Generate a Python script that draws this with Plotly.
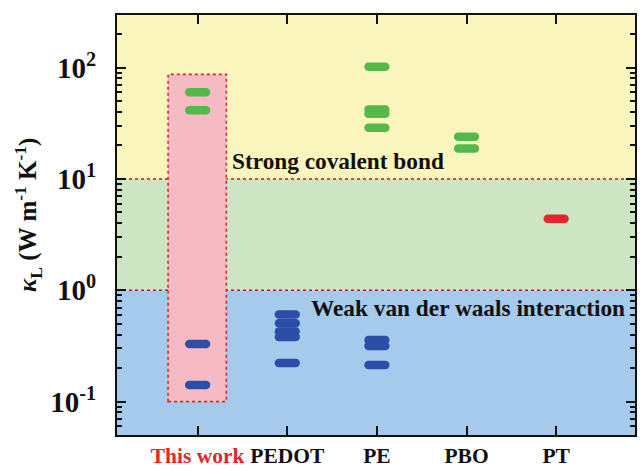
import numpy as np
import plotly.graph_objects as go

# Categories (x positions 0..4)
categories = ["This work", "PEDOT", "PE", "PBO", "PT"]

# Thermal conductivity values, W m^-1 K^-1
this_work_high = [60.0, 41.5]
this_work_low = [0.33, 0.141]
pedot_low = [0.607, 0.507, 0.427, 0.38, 0.222]
pe_high = [102.0, 42.0, 38.5, 28.8]
pe_low = [0.358, 0.316, 0.213]
pbo_high = [23.9, 18.8]
pt_mid = [4.39]

GREEN = "#55b947"
BLUE = "#2d4ea8"
RED = "#e3262b"
FONT = "Times New Roman, Liberation Serif, serif"

fig = go.Figure()


def add_pills(xi, values, color):
    fig.add_trace(go.Scatter(
        x=[xi] * len(values), y=values, mode="markers",
        marker=dict(symbol="line-ew", size=12,
                    line=dict(width=8.5, color=color)),
        showlegend=False, hoverinfo="y",
    ))


add_pills(0, this_work_high, GREEN)
add_pills(0, this_work_low, BLUE)
add_pills(1, pedot_low, BLUE)
add_pills(2, pe_high, GREEN)
add_pills(2, pe_low, BLUE)
add_pills(3, pbo_high, GREEN)
add_pills(4, pt_mid, RED)

# Background regions
fig.add_shape(type="rect", xref="paper", yref="y", x0=0, x1=1, y0=10, y1=1000,
              fillcolor="#f9f5bd", line_width=0, layer="below")
fig.add_shape(type="rect", xref="paper", yref="y", x0=0, x1=1, y0=1, y1=10,
              fillcolor="#cde5c3", line_width=0, layer="below")
fig.add_shape(type="rect", xref="paper", yref="y", x0=0, x1=1, y0=0.01, y1=1,
              fillcolor="#a5caeb", line_width=0, layer="below")
# Highlight of this work
fig.add_shape(type="rect", xref="x", yref="y", x0=-0.33, x1=0.32, y0=0.1, y1=87,
              fillcolor="#f6bac4", line=dict(color="#d42a2a", width=1.6, dash="dot"),
              layer="below")
# Dotted boundaries
for yb in (10, 1):
    fig.add_shape(type="line", xref="paper", yref="y", x0=0, x1=1, y0=yb, y1=yb,
                  line=dict(color="#a8202a", width=1.6, dash="dot"), layer="below")

fig.add_annotation(x=1.567, y=np.log10(14.5), xref="x", yref="y",
                   text="<b>Strong covalent bond</b>", showarrow=False,
                   font=dict(family=FONT, size=23.3, color="#111"))
fig.add_annotation(x=3.02, y=np.log10(0.69), xref="x", yref="y",
                   text="<b>Weak van der waals interaction</b>", showarrow=False,
                   font=dict(family=FONT, size=23.3, color="#111"))
fig.add_annotation(x=-0.173, y=0.525, xref="paper", yref="paper", textangle=-90,
                   xanchor="center", yanchor="middle",
                   text="<b><i>κ</i><sub>L</sub> (W m<sup>-1</sup> K<sup>-1</sup>)</b>",
                   showarrow=False, font=dict(family=FONT, size=25, color="#111"))

ticktext = ['<span style="color:#e3262b">This work</span>'] + categories[1:]
ticktext = [f"<b>{t}</b>" for t in ticktext]

minor_vals = [m * 10.0 ** d for d in range(-2, 3) for m in range(2, 10)]

fig.update_layout(
    width=640, height=471,
    margin=dict(l=117, r=3, t=15, b=34),
    paper_bgcolor="white", plot_bgcolor="white",
    font=dict(family=FONT, color="#111"),
    xaxis=dict(
        range=[-0.9, 4.88], tickvals=list(range(len(categories))), ticktext=ticktext,
        ticks="inside", ticklen=9, tickwidth=2, tickcolor="#111",
        showline=True, linecolor="#111", linewidth=2, mirror="ticks",
        showgrid=False, zeroline=False,
        tickfont=dict(family=FONT, size=21.5, color="#111"),
    ),
    yaxis=dict(
        type="log", range=[-1.3, 2.473],
        tickvals=[0.1, 1, 10, 100],
        ticktext=["<b>10<sup>-1</sup></b>", "<b>10<sup>0</sup></b>",
                  "<b>10<sup>1</sup></b>", "<b>10<sup>2</sup></b>"],
        ticks="inside", ticklen=9, tickwidth=2, tickcolor="#111",
        showline=True, linecolor="#111", linewidth=2, mirror="ticks",
        showgrid=False, zeroline=False, ticklabelstandoff=13,
        tickfont=dict(family=FONT, size=29, color="#111"),
        minor=dict(tickvals=minor_vals, ticks="inside", ticklen=5, tickwidth=1.5,
                   tickcolor="#111", showgrid=False),
    ),
)

fig.write_html(
    "out.html",
    post_script="document.querySelectorAll('.scatterlayer path.point')"
                ".forEach(function(p){p.style.strokeLinecap='round';});",
)
